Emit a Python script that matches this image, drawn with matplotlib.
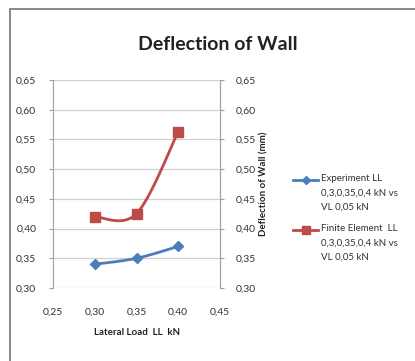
"""Deflection of wall: experiment vs finite element."""

import numpy as np
import matplotlib
matplotlib.use("Agg")
import matplotlib.pyplot as plt
from matplotlib.patches import Rectangle
from matplotlib.lines import Line2D

plt.rcParams['font.family'] = ['Lato', 'DejaVu Sans']

# Data
lateral_load = [0.30, 0.35, 0.40]
experiment = [0.34, 0.35, 0.37]
finite_element = [0.42, 0.425, 0.563]
y_ticks = [0.30, 0.35, 0.40, 0.45, 0.50, 0.55, 0.60, 0.65]
x_ticks = [0.25, 0.30, 0.35, 0.40, 0.45]
legend_labels = ["Experiment LL\n0,3,0,35,0,4 kN vs\nVL 0,05 kN",
                 "Finite Element  LL\n0,3,0,35,0,4 kN vs\nVL 0,05 kN"]

blue = "#4a7ebb"
red = "#be4b48"


def smooth(xs, ys, n=40):
    """Excel-like smoothed line (Catmull-Rom as Bezier segments)."""
    pts = np.column_stack([xs, ys])
    out = []
    for i in range(len(pts) - 1):
        p0 = pts[max(i - 1, 0)]
        p1 = pts[i]
        p2 = pts[i + 1]
        p3 = pts[min(i + 2, len(pts) - 1)]
        c1 = p1 + (p2 - p0) / 6
        c2 = p2 - (p3 - p1) / 6
        t = np.linspace(0, 1, n)[:, None]
        seg = ((1 - t) ** 3) * p1 + 3 * ((1 - t) ** 2) * t * c1 \
            + 3 * (1 - t) * t ** 2 * c2 + t ** 3 * p2
        out.append(seg)
    arr = np.vstack(out)
    return arr[:, 0], arr[:, 1]


def comma(v):
    return f"{v:.2f}".replace(".", ",")


fig = plt.figure(figsize=(4.15, 3.61), dpi=100)
fig.patch.set_facecolor("white")

# outer chart frame
fig.patches.append(Rectangle((10 / 415, -0.1), 1.2, 1 - 9 / 361 + 0.1,
                             transform=fig.transFigure, fill=False,
                             edgecolor="#7f7f7f", linewidth=1.3))

ax = fig.add_axes([53 / 415, 1 - 288 / 361, 167 / 415, 208 / 361])

sx, sy = smooth(lateral_load, experiment)
ax.plot(sx, sy, color=blue, linewidth=2)
ax.plot(lateral_load, experiment, linestyle="none", marker="D",
        markersize=5, color=blue)
sx, sy = smooth(lateral_load, finite_element)
ax.plot(sx, sy, color=red, linewidth=2)
ax.plot(lateral_load, finite_element, linestyle="none", marker="s",
        markersize=7, color=red)

ax.set_xlim(0.25, 0.45)
ax.set_ylim(0.30, 0.65)
ax.set_xticks(x_ticks)
ax.set_xticklabels([comma(v) for v in x_ticks], fontsize=7.5, color="#333333")
ax.set_yticks(y_ticks)
ax.set_yticklabels([comma(v) for v in y_ticks], fontsize=7.5, color="#333333")
ax.tick_params(axis="x", length=0, pad=14)
ax.tick_params(axis="y", length=3, color="#a0a0a0", pad=9)
ax.grid(axis="y", color="#d0d0d0", linewidth=0.9)
ax.set_axisbelow(True)
for s in ["top", "bottom"]:
    ax.spines[s].set_visible(False)
ax.spines["left"].set_color("#a0a0a0")
ax.spines["right"].set_color("#a0a0a0")
ax.set_xlabel("Lateral Load  LL  kN", fontsize=7, fontweight="bold",
              labelpad=8, color="#222222")

ax2 = ax.twinx()
ax2.set_ylim(0.30, 0.65)
ax2.set_yticks(y_ticks)
ax2.set_yticklabels([comma(v) for v in y_ticks], fontsize=7.5, color="#333333")
ax2.tick_params(axis="y", length=3, color="#a0a0a0", pad=8)
for s in ["top", "bottom", "left"]:
    ax2.spines[s].set_visible(False)
ax2.spines["right"].set_color("#a0a0a0")
ax2.set_ylabel("Deflection of Wall (mm)", fontsize=7, fontweight="bold",
               labelpad=3, color="#222222")

fig.text(218 / 415, 1 - 44 / 361, "Deflection of Wall", fontsize=14,
         fontweight="bold", ha="center", va="center", color="#222222")

# Legend in Excel style: marker aligned with the first text line
W, H = 415, 361
for label, color, marker, ms, ytop in [(legend_labels[0], blue, "D", 4, 180),
                                       (legend_labels[1], red, "s", 6, 230)]:
    fig.add_artist(Line2D([293 / W, 318 / W], [1 - ytop / H, 1 - ytop / H],
                          transform=fig.transFigure, color=color, linewidth=2))
    fig.add_artist(Line2D([305.5 / W], [1 - ytop / H], transform=fig.transFigure,
                          color=color, marker=marker, markersize=ms))
    fig.text(321 / W, 1 - (ytop - 6) / H, label, fontsize=7, color="#333333",
             ha="left", va="top", linespacing=1.75)

fig.savefig("out.png", dpi=100)
